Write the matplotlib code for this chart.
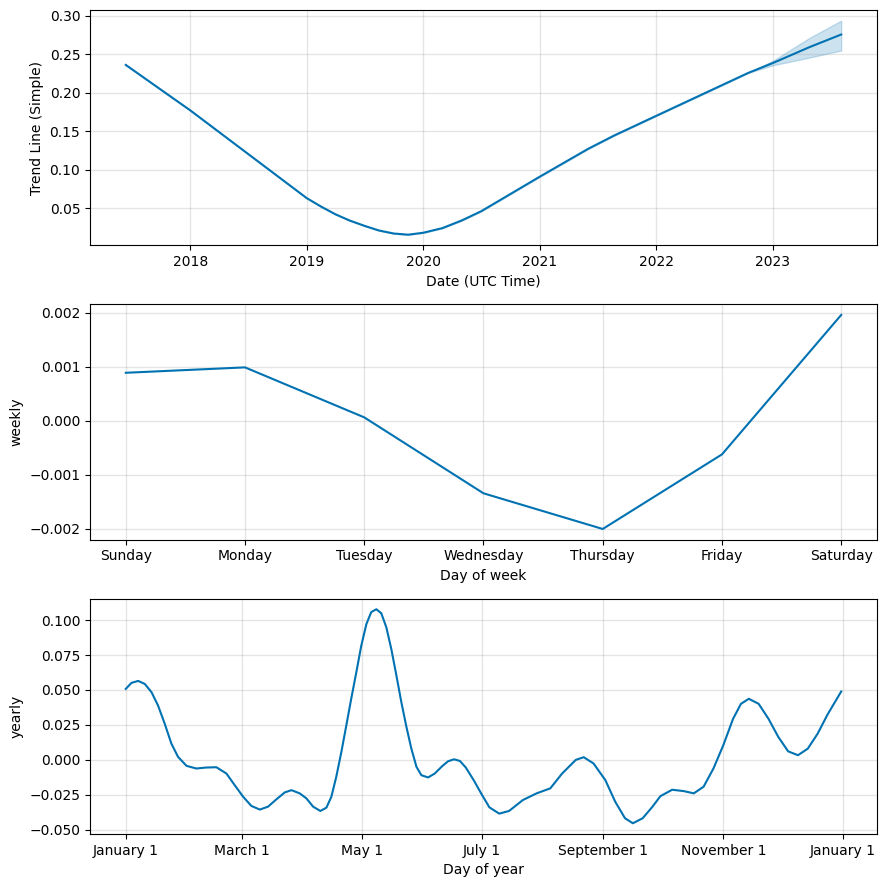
import matplotlib
matplotlib.use("Agg")
import matplotlib.pyplot as plt
import matplotlib.dates as mdates
import pandas as pd

# trend component
trend_dates = ['2017-06-13', '2018-01-01', '2019-01-01', '2019-02-15', '2019-04-01',
               '2019-05-15', '2019-07-01', '2019-08-15', '2019-10-01', '2019-11-15',
               '2020-01-01', '2020-03-01', '2020-05-01', '2020-07-01', '2021-01-01',
               '2021-06-01', '2021-08-20', '2022-01-01', '2022-10-15', '2023-01-01',
               '2023-04-25', '2023-08-03']
trend = [0.236, 0.177, 0.063, 0.052, 0.042, 0.034, 0.027, 0.021, 0.017, 0.0155,
         0.018, 0.024, 0.034, 0.046, 0.091, 0.127, 0.144, 0.170, 0.2255, 0.2385,
         0.259, 0.2755]
trend_upper = [0.236, 0.177, 0.063, 0.052, 0.042, 0.034, 0.027, 0.021, 0.017, 0.0155,
               0.018, 0.024, 0.034, 0.046, 0.091, 0.127, 0.144, 0.170, 0.2255, 0.2415,
               0.271, 0.2935]
trend_lower = [0.236, 0.177, 0.063, 0.052, 0.042, 0.034, 0.027, 0.021, 0.017, 0.0155,
               0.018, 0.024, 0.034, 0.046, 0.091, 0.127, 0.144, 0.170, 0.2255, 0.2355,
               0.2455, 0.2547]

# weekly component
days = ['Sunday', 'Monday', 'Tuesday', 'Wednesday', 'Thursday', 'Friday', 'Saturday']
weekly = [0.00089, 0.00099, 0.000065, -0.00134, -0.0020, -0.00062, 0.00196]

# yearly component (day of year from Jan 1)
year_days = [0, 2.9, 6.3, 9.7, 13.1, 16.4, 19.8, 23.2, 26.6, 30.9, 35.9, 41.0, 46.1, 51.2,
             55.4, 59.7, 63.9, 68.2, 72.4, 76.6, 80.9, 84.3, 88.5, 91.9, 95.3, 99.0, 102.1,
             104.6, 107.1, 109.7, 112.2, 114.7, 117.3, 119.8, 122.4, 124.9, 127.5, 130.0,
             132.6, 135.1, 137.7, 140.2, 142.8, 145.3, 147.9, 150.4, 153.8, 157.2, 161,
             164, 167, 170, 173, 177, 181, 185, 190, 195, 202, 209, 216, 222, 229, 233,
             238, 244, 249, 254, 258, 263, 268, 272, 278, 284, 289, 294, 299, 304, 309,
             313, 317, 322, 327, 332, 337, 342, 347, 352, 357, 364]
yearly = [0.0508, 0.0551, 0.0565, 0.0543, 0.0484, 0.0389, 0.0259, 0.0116, 0.0021, -0.0043,
          -0.0062, -0.0055, -0.0053, -0.0098, -0.0181, -0.0264, -0.0330, -0.0356, -0.0335,
          -0.0283, -0.0233, -0.0217, -0.0240, -0.0276, -0.0335, -0.0366, -0.0342, -0.0264,
          -0.0121, 0.0057, 0.0246, 0.0437, 0.0627, 0.0816, 0.0971, 0.1058, 0.1078, 0.1049,
          0.0947, 0.0793, 0.0603, 0.0413, 0.0235, 0.0080, -0.0050, -0.0110, -0.0126, -0.0098,
          -0.0045, -0.0010, 0.0004, -0.0008, -0.0055, -0.0145, -0.0245, -0.0340, -0.0385,
          -0.0366, -0.0288, -0.0240, -0.0204, -0.0098, 0.0000, 0.0019, -0.0026, -0.0145,
          -0.0299, -0.0418, -0.0454, -0.0418, -0.0335, -0.0260, -0.0214, -0.0224, -0.0240,
          -0.0192, -0.0062, 0.0104, 0.0294, 0.0401, 0.0437, 0.0401, 0.0294, 0.0164, 0.0061,
          0.0033, 0.0080, 0.0187, 0.0323, 0.0489]

col = '#0072B2'

fig, axes = plt.subplots(3, 1, figsize=(8.86, 8.89), facecolor='w')
fig.subplots_adjust(left=0.1016, right=0.9898, top=0.9888, bottom=0.0619, hspace=0.25)

# trend
ax = axes[0]
t = pd.to_datetime(trend_dates)
ax.plot(t, trend, ls='-', c=col)
ax.fill_between(t, trend_lower, trend_upper, color=col, alpha=0.2)
ax.xaxis.set_major_locator(mdates.YearLocator())
ax.xaxis.set_major_formatter(mdates.DateFormatter('%Y'))
ax.grid(True, which='major', c='gray', ls='-', lw=1, alpha=0.2)
ax.set_xlabel('Date (UTC Time)')
ax.set_ylabel('Trend Line (Simple)')

# weekly
ax = axes[1]
ax.plot(range(len(days)), weekly, ls='-', c=col)
ax.set_xticks(range(len(days)))
ax.set_xticklabels(days)
ax.grid(True, which='major', c='gray', ls='-', lw=1, alpha=0.2)
ax.set_xlabel('Day of week')
ax.set_ylabel('weekly')

# yearly
ax = axes[2]
yd = pd.Timestamp('2017-01-01') + pd.to_timedelta(year_days, unit='D')
ax.plot(yd, yearly, ls='-', c=col)
ax.xaxis.set_major_locator(mdates.MonthLocator(bymonth=range(1, 13), bymonthday=1, interval=2))
ax.xaxis.set_major_formatter(mdates.DateFormatter('%B %-d'))
ax.grid(True, which='major', c='gray', ls='-', lw=1, alpha=0.2)
ax.set_xlabel('Day of year')
ax.set_ylabel('yearly')

plt.savefig('out.png', dpi=100)
